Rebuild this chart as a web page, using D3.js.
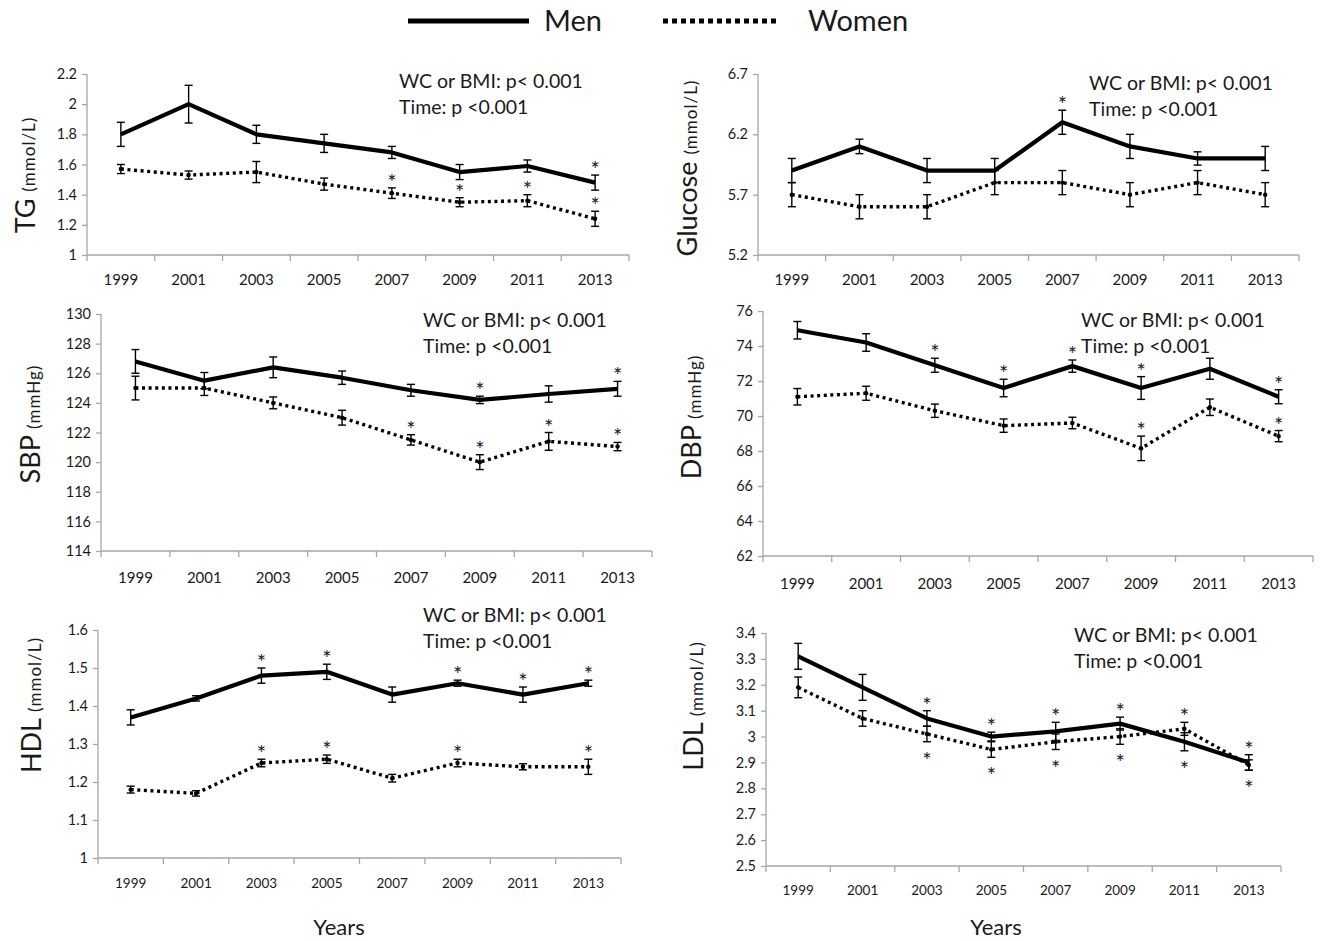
<!DOCTYPE html>
<html>
<head>
<meta charset="utf-8">
<script src="https://cdn.jsdelivr.net/npm/d3@7"></script>
<style>
  html, body { margin: 0; padding: 0; background: #fff; }
  svg { display: block; }
  text { font-family: Lato, "Open Sans", sans-serif; fill: #1a1a1a; }
</style>
</head>
<body>
<svg id="chart" width="1320" height="941"></svg>
<script>
// ---------------- DATA ----------------
const years = ["1999", "2001", "2003", "2005", "2007", "2009", "2011", "2013"];
const seriesNames = ["Men", "Women"];
const noteLine1 = "WC or BMI: p< 0.001";
const noteLine2 = "Time: p <0.001";
const xTitle = "Years";

// TG (mmol/L)
const tgMen = [1.80, 2.00, 1.80, 1.74, 1.68, 1.55, 1.59, 1.48];
const tgMenErr = [0.08, 0.125, 0.06, 0.06, 0.04, 0.05, 0.04, 0.05];
const tgWomen = [1.57, 1.53, 1.55, 1.47, 1.41, 1.35, 1.36, 1.24];
const tgWomenErr = [0.03, 0.027, 0.07, 0.04, 0.035, 0.03, 0.04, 0.05];
const tgTicks = [1, 1.2, 1.4, 1.6, 1.8, 2, 2.2];
const tgMenStars = ["2013"];
const tgWomenStars = ["2007", "2009", "2011", "2013"];

// Glucose (mmol/L)
const gluMen = [5.9, 6.1, 5.9, 5.9, 6.3, 6.1, 6.0, 6.0];
const gluMenErr = [0.1, 0.06, 0.1, 0.1, 0.1, 0.1, 0.055, 0.1];
const gluWomen = [5.7, 5.6, 5.6, 5.8, 5.8, 5.7, 5.8, 5.7];
const gluWomenErr = [0.1, 0.1, 0.1, 0.1, 0.1, 0.1, 0.1, 0.1];
const gluTicks = [5.2, 5.7, 6.2, 6.7];
const gluMenStars = ["2007"];
const gluWomenStars = [];

// SBP (mmHg)
const sbpMen = [126.8, 125.5, 126.4, 125.7, 124.85, 124.2, 124.6, 124.95];
const sbpMenErr = [0.8, 0.55, 0.7, 0.45, 0.4, 0.25, 0.55, 0.5];
const sbpWomen = [125.0, 125.0, 124.0, 123.0, 121.5, 120.0, 121.4, 121.05];
const sbpWomenErr = [0.8, 0.5, 0.4, 0.5, 0.35, 0.5, 0.6, 0.28];
const sbpTicks = [114, 116, 118, 120, 122, 124, 126, 128, 130];
const sbpMenStars = ["2009", "2013"];
const sbpWomenStars = ["2007", "2009", "2011", "2013"];

// DBP (mmHg)
const dbpMen = [74.9, 74.2, 72.9, 71.6, 72.85, 71.6, 72.7, 71.1];
const dbpMenErr = [0.5, 0.5, 0.4, 0.5, 0.35, 0.65, 0.6, 0.4];
const dbpWomen = [71.1, 71.3, 70.3, 69.45, 69.6, 68.15, 70.5, 68.85];
const dbpWomenErr = [0.47, 0.4, 0.38, 0.38, 0.33, 0.7, 0.47, 0.32];
const dbpTicks = [62, 64, 66, 68, 70, 72, 74, 76];
const dbpMenStars = ["2003", "2005", "2007", "2009", "2013"];
const dbpWomenStars = ["2009", "2013"];

// HDL (mmol/L)
const hdlMen = [1.37, 1.42, 1.48, 1.49, 1.43, 1.46, 1.43, 1.46];
const hdlMenErr = [0.02, 0.007, 0.02, 0.02, 0.02, 0.008, 0.02, 0.008];
const hdlWomen = [1.18, 1.17, 1.25, 1.26, 1.21, 1.25, 1.24, 1.24];
const hdlWomenErr = [0.009, 0.007, 0.01, 0.011, 0.01, 0.01, 0.008, 0.02];
const hdlTicks = [1, 1.1, 1.2, 1.3, 1.4, 1.5, 1.6];
const hdlMenStars = ["2003", "2005", "2009", "2011", "2013"];
const hdlWomenStars = ["2003", "2005", "2009", "2013"];

// LDL (mmol/L)
const ldlMen = [3.31, 3.19, 3.07, 3.00, 3.02, 3.05, 2.98, 2.90];
const ldlMenErr = [0.05, 0.05, 0.03, 0.017, 0.035, 0.025, 0.035, 0.03];
const ldlWomen = [3.19, 3.07, 3.01, 2.95, 2.98, 3.00, 3.03, 2.89];
const ldlWomenErr = [0.04, 0.03, 0.03, 0.03, 0.03, 0.03, 0.025, 0.02];
const ldlTicks = [2.5, 2.6, 2.7, 2.8, 2.9, 3, 3.1, 3.2, 3.3, 3.4];
const ldlMenStars = ["2003", "2005", "2007", "2009", "2011", "2013"];
const ldlWomenStars = ["2003", "2005", "2007", "2009", "2011", "2013"];

// ---------------- PANELS (data refs + layout) ----------------
const panels = [
  { name: "TG", unit: "(mmol/L)", men: tgMen, menErr: tgMenErr, women: tgWomen, womenErr: tgWomenErr,
    ticks: tgTicks, menStars: tgMenStars, womenStars: tgWomenStars, womenStarsBelow: false, envelope: false,
    left: 87, right: 629, top: 74, bottom: 255, labelX: 35, labelY: 175,
    noteX: 399, noteY: 88, yearY: 285, yearFont: 15, xTitle: false },
  { name: "Glucose", unit: "(mmol/L)", men: gluMen, menErr: gluMenErr, women: gluWomen, womenErr: gluWomenErr,
    ticks: gluTicks, menStars: gluMenStars, womenStars: gluWomenStars, womenStarsBelow: false, envelope: false,
    left: 758, right: 1299, top: 74, bottom: 255, labelX: 697, labelY: 168,
    noteX: 1089, noteY: 90, yearY: 285, yearFont: 15, xTitle: false },
  { name: "SBP", unit: "(mmHg)", men: sbpMen, menErr: sbpMenErr, women: sbpWomen, womenErr: sbpWomenErr,
    ticks: sbpTicks, menStars: sbpMenStars, womenStars: sbpWomenStars, womenStarsBelow: false, envelope: false,
    left: 101, right: 652, top: 314, bottom: 551, labelX: 40, labelY: 424,
    noteX: 423, noteY: 327, yearY: 583, yearFont: 15, xTitle: false },
  { name: "DBP", unit: "(mmHg)", men: dbpMen, menErr: dbpMenErr, women: dbpWomen, womenErr: dbpWomenErr,
    ticks: dbpTicks, menStars: dbpMenStars, womenStars: dbpWomenStars, womenStarsBelow: false, envelope: false,
    left: 763, right: 1313, top: 311, bottom: 556, labelX: 701, labelY: 417,
    noteX: 1081, noteY: 327, yearY: 589, yearFont: 15, xTitle: false },
  { name: "HDL", unit: "(mmol/L)", men: hdlMen, menErr: hdlMenErr, women: hdlWomen, womenErr: hdlWomenErr,
    ticks: hdlTicks, menStars: hdlMenStars, womenStars: hdlWomenStars, womenStarsBelow: false, envelope: false,
    left: 98, right: 621, top: 630, bottom: 858, labelX: 41, labelY: 705,
    noteX: 423, noteY: 622, yearY: 888, yearFont: 13.5, xTitle: true, titleX: 339 },
  { name: "LDL", unit: "(mmol/L)", men: ldlMen, menErr: ldlMenErr, women: ldlWomen, womenErr: ldlWomenErr,
    ticks: ldlTicks, menStars: ldlMenStars, womenStars: ldlWomenStars, womenStarsBelow: true, envelope: true,
    left: 766, right: 1281, top: 633, bottom: 866, labelX: 703, labelY: 706,
    noteX: 1074, noteY: 642, yearY: 895, yearFont: 13.5, xTitle: true, titleX: 996 }
];

const svg = d3.select("#chart");
const axisColor = "#a6a6a6";

// ---------------- LEGEND ----------------
const legend = svg.append("g");
legend.append("line").attr("x1", 408).attr("x2", 529).attr("y1", 21).attr("y2", 21)
  .attr("stroke", "#000").attr("stroke-width", 5);
legend.append("text").attr("x", 544).attr("y", 31).attr("font-size", 29).text(seriesNames[0]);
legend.append("line").attr("x1", 663).attr("x2", 777).attr("y1", 21).attr("y2", 21)
  .attr("stroke", "#000").attr("stroke-width", 5).attr("stroke-dasharray", "5,4");
legend.append("text").attr("x", 808).attr("y", 31).attr("font-size", 29).text(seriesNames[1]);

// ---------------- PANELS ----------------
const fmt = d3.format("~g");

panels.forEach(p => {
  const g = svg.append("g");
  const x = d3.scaleBand().domain(years).range([p.left, p.right]).padding(0);
  const y = d3.scaleLinear().domain([p.ticks[0], p.ticks[p.ticks.length - 1]]).range([p.bottom, p.top]);
  const cx = yr => x(yr) + x.bandwidth() / 2;

  // Y axis
  const yAxis = g.append("g").attr("transform", `translate(${p.left},0)`)
    .call(d3.axisLeft(y).tickValues(p.ticks).tickSize(5).tickPadding(5).tickFormat(fmt));
  yAxis.select(".domain").attr("stroke", axisColor).attr("stroke-width", 1.3)
    .attr("d", `M0,${p.bottom}V${p.top}`);
  yAxis.selectAll(".tick line").attr("stroke", axisColor).attr("stroke-width", 1.3);
  yAxis.selectAll(".tick text").attr("font-size", 14.5).attr("fill", "#1a1a1a")
    .attr("font-family", "Lato, sans-serif");

  // X axis (ticks at band boundaries)
  const xg = g.append("g");
  xg.append("line").attr("x1", p.left).attr("x2", p.right).attr("y1", p.bottom).attr("y2", p.bottom)
    .attr("stroke", axisColor).attr("stroke-width", 1.3);
  const bounds = years.map(yr => x(yr)).concat([x(years[years.length - 1]) + x.bandwidth()]);
  xg.selectAll("line.tk").data(bounds).join("line").attr("class", "tk")
    .attr("x1", d => d).attr("x2", d => d).attr("y1", p.bottom).attr("y2", p.bottom + 6)
    .attr("stroke", axisColor).attr("stroke-width", 1.3);
  xg.selectAll("text.yr").data(years).join("text").attr("class", "yr")
    .attr("x", d => cx(d)).attr("y", p.yearY).attr("text-anchor", "middle")
    .attr("font-size", p.yearFont).text(d => d);

  // Y label (rotated)
  const lab = g.append("text")
    .attr("transform", `translate(${p.labelX},${p.labelY}) rotate(-90)`)
    .attr("text-anchor", "middle");
  lab.append("tspan").attr("font-size", 27).text(p.name + " ");
  lab.append("tspan").attr("font-size", 17).attr("letter-spacing", 1).text(p.unit);

  // Notes
  g.append("text").attr("x", p.noteX).attr("y", p.noteY).attr("font-size", 19.5).text(noteLine1);
  g.append("text").attr("x", p.noteX).attr("y", p.noteY + 25.5).attr("font-size", 19.5).text(noteLine2);

  // Series
  const series = [
    { vals: p.men, errs: p.menErr, dash: null, width: 4.2, stars: p.menStars, below: false, marker: false },
    { vals: p.women, errs: p.womenErr, dash: "3,3.6", width: 3.4, stars: p.womenStars, below: p.womenStarsBelow, marker: true }
  ];
  series.forEach(s => {
    const pts = years.map((yr, i) => ({ yr, i, v: s.vals[i], e: s.errs[i] }));
    const line = d3.line().x(d => cx(d.yr)).y(d => y(d.v));
    g.append("path").datum(pts).attr("d", line).attr("fill", "none")
      .attr("stroke", "#000").attr("stroke-width", s.width)
      .attr("stroke-linejoin", "round")
      .attr("stroke-dasharray", s.dash);
    if (s.marker) {
      g.selectAll(null).data(pts).join("circle")
        .attr("cx", d => cx(d.yr)).attr("cy", d => y(d.v)).attr("r", 2.2).attr("fill", "#000");
    }
    const eb = g.append("g").attr("stroke", "#000").attr("stroke-width", 1.4);
    eb.selectAll("line.v").data(pts).join("line").attr("class", "v")
      .attr("x1", d => cx(d.yr)).attr("x2", d => cx(d.yr))
      .attr("y1", d => y(d.v + d.e)).attr("y2", d => y(d.v - d.e));
    eb.selectAll("line.t").data(pts).join("line").attr("class", "t")
      .attr("x1", d => cx(d.yr) - 4).attr("x2", d => cx(d.yr) + 4)
      .attr("y1", d => y(d.v + d.e)).attr("y2", d => y(d.v + d.e));
    eb.selectAll("line.b").data(pts).join("line").attr("class", "b")
      .attr("x1", d => cx(d.yr) - 4).attr("x2", d => cx(d.yr) + 4)
      .attr("y1", d => y(d.v - d.e)).attr("y2", d => y(d.v - d.e));
    // stars
    const topVal = d => p.envelope ? Math.max(p.men[d.i] + p.menErr[d.i], p.women[d.i] + p.womenErr[d.i]) : d.v + d.e;
    const botVal = d => p.envelope ? Math.min(p.men[d.i] - p.menErr[d.i], p.women[d.i] - p.womenErr[d.i]) : d.v - d.e;
    const starPts = pts.filter(d => s.stars.includes(d.yr));
    g.selectAll(null).data(starPts).join("text")
      .attr("x", d => cx(d.yr)).attr("text-anchor", "middle")
      .attr("y", d => s.below ? y(botVal(d)) + 26 : y(topVal(d)) + 2)
      .attr("font-family", "'DejaVu Sans', sans-serif")
      .attr("font-size", 22).attr("fill", "#333").text("*");
  });

  if (p.xTitle) {
    g.append("text").attr("x", p.titleX).attr("y", 935).attr("text-anchor", "middle")
      .attr("font-size", 22).text(xTitle);
  }
});
</script>
</body>
</html>
